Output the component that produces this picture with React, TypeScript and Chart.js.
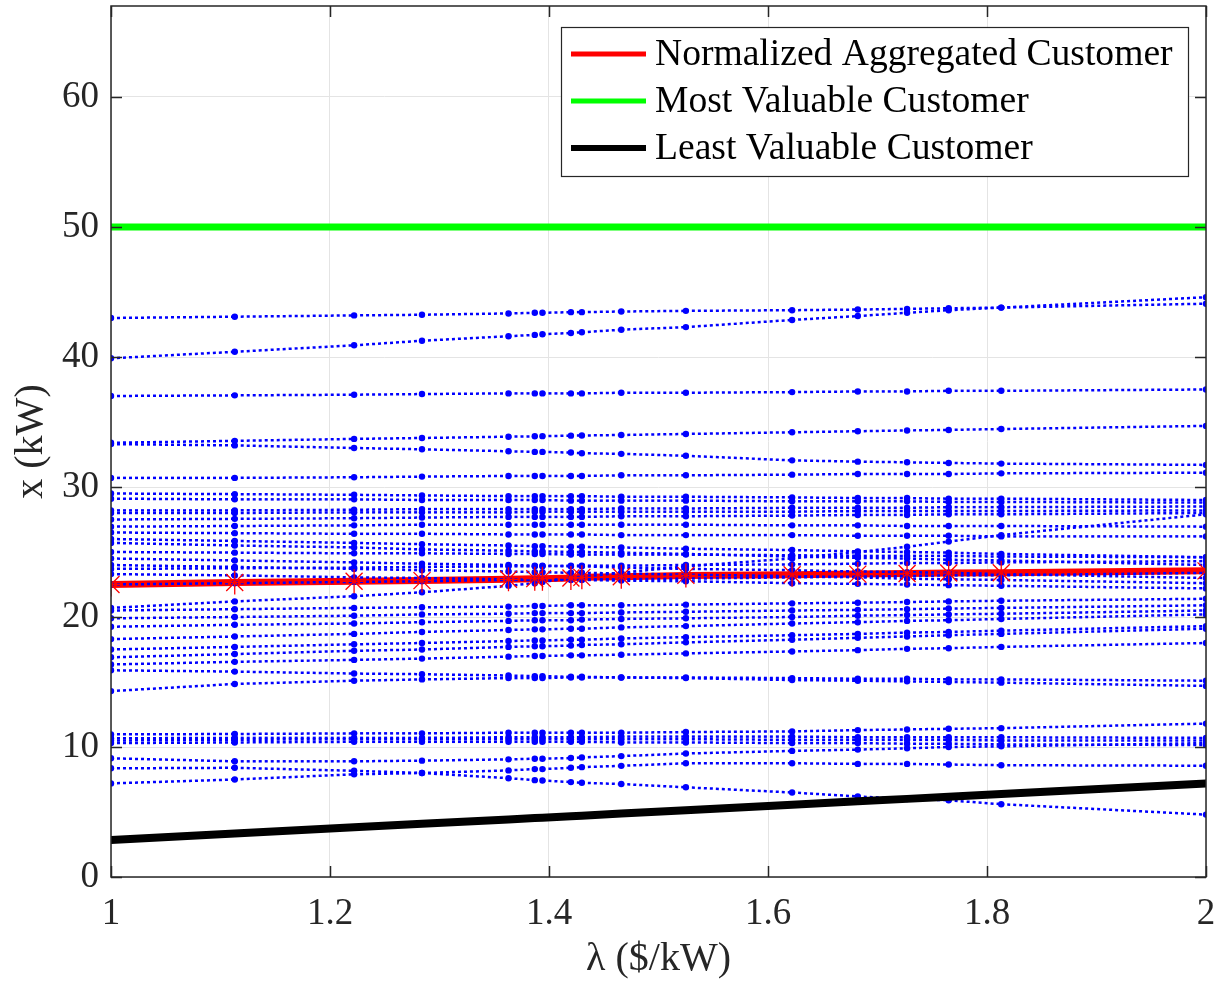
import React, { useEffect, useRef } from "react";
import { Chart, registerables } from "chart.js";

Chart.register(...registerables);

// λ values ($/kW) at which each customer's response was computed
const LAMBDA = [1, 1.113, 1.222, 1.284, 1.363, 1.387, 1.394, 1.42, 1.43, 1.466, 1.525, 1.622, 1.682, 1.727, 1.765, 1.813, 2];

const X_TICKS = [1, 1.2, 1.4, 1.6, 1.8, 2];
const Y_TICKS = [0, 10, 20, 30, 40, 50, 60];

const LEGEND_LABELS = ["Normalized Aggregated Customer", "Most Valuable Customer", "Least Valuable Customer"];

const AGGREGATED = [22.5, 22.65, 22.75, 22.8, 22.9, 22.95, 22.95, 23.0, 23.05, 23.1, 23.2, 23.25, 23.3, 23.35, 23.38, 23.4, 23.55];
const MOST_VALUABLE = [50, 50, 50, 50, 50, 50, 50, 50, 50, 50, 50, 50, 50, 50, 50, 50, 50];
const LEAST_VALUABLE = [2.85, 3.34, 3.82, 4.09, 4.43, 4.53, 4.56, 4.68, 4.72, 4.88, 5.13, 5.56, 5.82, 6.01, 6.18, 6.39, 7.2];

// individual customers (kW)
const C01 = [43.0, 43.1, 43.2, 43.25, 43.35, 43.4, 43.4, 43.45, 43.45, 43.5, 43.55, 43.6, 43.65, 43.7, 43.75, 43.8, 44.6];
const C02 = [39.9, 40.4, 40.9, 41.25, 41.6, 41.7, 41.75, 41.85, 41.9, 42.1, 42.3, 42.85, 43.15, 43.4, 43.6, 43.8, 44.1];
const C03 = [37.0, 37.05, 37.1, 37.15, 37.2, 37.2, 37.2, 37.2, 37.2, 37.25, 37.25, 37.3, 37.35, 37.35, 37.4, 37.4, 37.5];
const C04 = [33.4, 33.55, 33.7, 33.77, 33.87, 33.9, 33.91, 33.95, 33.96, 34.0, 34.08, 34.21, 34.29, 34.35, 34.39, 34.46, 34.7];
const C05 = [33.3, 33.2, 33.0, 32.9, 32.75, 32.7, 32.7, 32.65, 32.6, 32.55, 32.4, 32.05, 31.95, 31.9, 31.85, 31.8, 31.7];
const C06 = [30.7, 30.7, 30.75, 30.8, 30.85, 30.85, 30.85, 30.85, 30.85, 30.9, 30.9, 30.95, 31.0, 31.0, 31.0, 31.05, 31.1];
const C07 = [29.5, 29.45, 29.4, 29.35, 29.3, 29.3, 29.3, 29.3, 29.3, 29.25, 29.25, 29.2, 29.15, 29.15, 29.1, 29.1, 29.0];
const C08 = [29.1, 29.05, 29.05, 29.0, 29.0, 29.0, 29.0, 28.95, 28.95, 28.95, 28.95, 28.9, 28.9, 28.9, 28.85, 28.85, 28.8];
const C09 = [28.2, 28.2, 28.25, 28.3, 28.3, 28.3, 28.3, 28.3, 28.3, 28.35, 28.35, 28.4, 28.4, 28.4, 28.45, 28.45, 28.5];
const C10 = [28.0, 28.0, 28.05, 28.05, 28.05, 28.1, 28.1, 28.1, 28.1, 28.1, 28.1, 28.1, 28.15, 28.15, 28.15, 28.15, 28.2];
const C11 = [27.5, 27.55, 27.6, 27.65, 27.7, 27.7, 27.7, 27.7, 27.7, 27.75, 27.75, 27.8, 27.85, 27.85, 27.9, 27.9, 28.0];
const C12 = [26.95, 27.0, 27.05, 27.1, 27.1, 27.1, 27.1, 27.1, 27.1, 27.1, 27.1, 27.05, 27.05, 27.0, 27.0, 27.0, 26.95];
const C13 = [26.5, 26.45, 26.4, 26.4, 26.35, 26.35, 26.35, 26.35, 26.35, 26.3, 26.3, 26.3, 26.25, 26.25, 26.25, 26.2, 26.2];
const C14 = [26.0, 25.85, 25.7, 25.6, 25.5, 25.45, 25.45, 25.4, 25.4, 25.35, 25.25, 25.15, 25.05, 25.0, 24.95, 24.85, 24.6];
const C15 = [25.7, 25.5, 25.35, 25.2, 25.1, 25.05, 25.05, 25.0, 25.0, 24.95, 24.85, 24.65, 24.55, 24.5, 24.4, 24.35, 24.0];
const C16 = [25.0, 24.95, 24.9, 24.9, 24.85, 24.85, 24.85, 24.8, 24.8, 24.8, 24.8, 24.75, 24.7, 24.7, 24.7, 24.65, 24.6];
const C17 = [24.5, 24.35, 24.2, 24.1, 24.0, 23.95, 23.95, 23.9, 23.9, 23.8, 23.7, 23.6, 23.5, 23.45, 23.4, 23.3, 23.0];
const C18 = [24.0, 23.85, 23.7, 23.6, 23.5, 23.45, 23.45, 23.4, 23.4, 23.35, 23.25, 23.15, 23.05, 22.95, 22.9, 22.85, 22.6];
const C19 = [23.7, 23.75, 23.8, 23.85, 23.9, 23.9, 23.9, 23.95, 23.95, 23.95, 24.0, 24.05, 24.1, 24.15, 24.15, 24.2, 24.3];
const C20 = [23.3, 23.2, 23.05, 23.0, 22.9, 22.85, 22.85, 22.85, 22.85, 22.8, 22.75, 22.6, 22.55, 22.5, 22.45, 22.4, 22.2];
const C21 = [22.5, 22.6, 22.7, 22.75, 22.85, 22.85, 22.85, 22.9, 22.9, 22.9, 22.95, 23.05, 23.1, 23.15, 23.2, 23.2, 23.4];
const C22 = [20.7, 21.2, 21.6, 21.9, 22.4, 22.6, 22.7, 23.0, 23.1, 23.4, 23.9, 24.5, 25.0, 25.4, 25.8, 26.3, 27.9];
const C23 = [20.5, 20.6, 20.7, 20.75, 20.8, 20.85, 20.85, 20.9, 20.9, 20.9, 20.95, 21.05, 21.1, 21.15, 21.2, 21.25, 21.4];
const C24 = [19.9, 20.0, 20.1, 20.2, 20.25, 20.3, 20.3, 20.3, 20.3, 20.35, 20.4, 20.5, 20.55, 20.6, 20.65, 20.7, 20.9];
const C25 = [19.25, 19.4, 19.5, 19.6, 19.7, 19.75, 19.75, 19.75, 19.8, 19.85, 19.9, 20.0, 20.1, 20.15, 20.2, 20.25, 20.5];
const C26 = [18.3, 18.5, 18.7, 18.85, 19.0, 19.05, 19.05, 19.1, 19.1, 19.2, 19.3, 19.5, 19.6, 19.7, 19.75, 19.85, 20.2];
const C27 = [17.5, 17.7, 17.9, 18.0, 18.15, 18.2, 18.2, 18.25, 18.25, 18.35, 18.45, 18.6, 18.7, 18.8, 18.85, 18.95, 19.3];
const C28 = [16.9, 17.15, 17.4, 17.5, 17.7, 17.75, 17.75, 17.8, 17.85, 17.9, 18.05, 18.25, 18.4, 18.5, 18.6, 18.7, 19.1];
const C29 = [16.35, 16.55, 16.7, 16.8, 16.95, 17.0, 17.0, 17.05, 17.05, 17.1, 17.2, 17.35, 17.45, 17.55, 17.6, 17.7, 18.0];
const C30 = [15.9, 15.8, 15.65, 15.6, 15.5, 15.45, 15.45, 15.4, 15.4, 15.35, 15.3, 15.15, 15.1, 15.05, 15.0, 14.95, 14.7];
const C31 = [14.3, 14.85, 15.1, 15.2, 15.3, 15.3, 15.3, 15.35, 15.35, 15.35, 15.35, 15.3, 15.25, 15.25, 15.2, 15.2, 15.1];
const C32 = [10.97, 11.0, 11.05, 11.05, 11.1, 11.1, 11.1, 11.1, 11.1, 11.1, 11.15, 11.2, 11.3, 11.35, 11.4, 11.45, 11.8];
const C33 = [10.67, 10.7, 10.7, 10.7, 10.75, 10.75, 10.75, 10.75, 10.75, 10.8, 10.8, 10.8, 10.75, 10.75, 10.75, 10.75, 10.7];
const C34 = [10.5, 10.55, 10.6, 10.6, 10.6, 10.6, 10.6, 10.6, 10.6, 10.6, 10.6, 10.55, 10.55, 10.55, 10.55, 10.5, 10.5];
const C35 = [10.3, 10.35, 10.4, 10.4, 10.4, 10.4, 10.4, 10.4, 10.4, 10.35, 10.35, 10.3, 10.3, 10.25, 10.25, 10.2, 10.15];
const C36 = [9.13, 8.9, 8.9, 8.95, 9.05, 9.1, 9.1, 9.15, 9.2, 9.3, 9.5, 9.7, 9.8, 9.9, 10.0, 10.05, 10.3];
const C37 = [8.36, 8.4, 8.17, 8.0, 7.6, 7.45, 7.42, 7.3, 7.25, 7.15, 6.9, 6.5, 6.2, 6.0, 5.9, 5.6, 4.8];
const C38 = [7.2, 7.5, 7.9, 8.0, 8.2, 8.3, 8.3, 8.4, 8.45, 8.55, 8.75, 8.75, 8.7, 8.7, 8.65, 8.6, 8.56];

const CUSTOMERS = [C01, C02, C03, C04, C05, C06, C07, C08, C09, C10, C11, C12, C13, C14, C15, C16, C17, C18, C19,
  C20, C21, C22, C23, C24, C25, C26, C27, C28, C29, C30, C31, C32, C33, C34, C35, C36, C37, C38];

const FONT = "'Liberation Serif', 'Times New Roman', serif";
const AXIS = "#262626";

const toXY = (vals: number[]) => LAMBDA.map((l, i) => ({ x: l, y: vals[i] }));

const framePlugin = {
  id: "matlabFrame",
  afterDatasetsDraw(chart: any) {
    const { ctx, chartArea: a, scales } = chart;
    const xs = scales.x;
    const ys = scales.y;
    ctx.save();
    ctx.strokeStyle = AXIS;
    ctx.lineWidth = 1.5;
    ctx.strokeRect(a.left, a.top, a.right - a.left, a.bottom - a.top);
    const tl = 11;
    ctx.beginPath();
    xs.ticks.forEach((t: any) => {
      const px = Math.round(xs.getPixelForValue(t.value)) + 0.5;
      ctx.moveTo(px, a.bottom);
      ctx.lineTo(px, a.bottom - tl);
      ctx.moveTo(px, a.top);
      ctx.lineTo(px, a.top + tl);
    });
    ys.ticks.forEach((t: any) => {
      const py = Math.round(ys.getPixelForValue(t.value)) + 0.5;
      ctx.moveTo(a.left, py);
      ctx.lineTo(a.left + tl, py);
      ctx.moveTo(a.right, py);
      ctx.lineTo(a.right - tl, py);
    });
    ctx.stroke();
    ctx.restore();
  },
  afterDraw(chart: any) {
    const { ctx, chartArea: a } = chart;
    ctx.save();
    // axis titles
    ctx.fillStyle = AXIS;
    ctx.font = `40px ${FONT}`;
    ctx.textAlign = "center";
    ctx.textBaseline = "alphabetic";
    ctx.fillText("\u03BB ($/kW)", (a.left + a.right) / 2, 970);
    ctx.save();
    ctx.translate(42, (a.top + a.bottom) / 2);
    ctx.rotate(-Math.PI / 2);
    ctx.fillText("x (kW)", 0, 0);
    ctx.restore();

    // legend box
    const bx = 561, by = 27, bw = 627, bh = 149;
    ctx.fillStyle = "#ffffff";
    ctx.fillRect(bx, by, bw, bh);
    ctx.strokeStyle = AXIS;
    ctx.lineWidth = 1.2;
    ctx.strokeRect(bx + 0.5, by + 0.5, bw, bh);
    const colors = ["#ff0000", "#00ff00", "#000000"];
    const widths = [5, 5, 6];
    const rows = [54, 101, 148];
    ctx.font = `37.6px ${FONT}`;
    ctx.textAlign = "left";
    ctx.textBaseline = "middle";
    LEGEND_LABELS.forEach((lab, i) => {
      ctx.strokeStyle = colors[i];
      ctx.lineWidth = widths[i];
      ctx.beginPath();
      ctx.moveTo(571, rows[i]);
      ctx.lineTo(646, rows[i]);
      ctx.stroke();
      ctx.fillStyle = "#000000";
      ctx.fillText(lab, 655, rows[i] + 1);
    });
    ctx.restore();
  },
};

const fmtTick = (v: number | string) => String(Number(Number(v).toFixed(2)));

export default function App() {
  const ref = useRef<HTMLCanvasElement | null>(null);

  useEffect(() => {
    if (!ref.current) return;
    const blue = CUSTOMERS.map((vals) => ({
      data: toXY(vals),
      borderColor: "#0000ff",
      backgroundColor: "#0000ff",
      borderWidth: 2.5,
      borderDash: [3, 3],
      // restart the dash pattern at each vertex, like MATLAB does
      segment: { borderDashOffset: (c: any) => (c.p0DataIndex % 2 ? 0.001 : 0) },
      pointRadius: 3.2,
      pointBorderWidth: 0,
      pointBackgroundColor: "#0000ff",
      fill: false,
      tension: 0,
    }));
    const chart = new Chart(ref.current, {
      type: "line",
      data: {
        datasets: [
          {
            // star markers of the aggregated customer, drawn above the customer lines
            data: toXY(AGGREGATED),
            showLine: false,
            pointStyle: "star",
            pointRadius: 12,
            pointBorderColor: "#ff0000",
            pointBorderWidth: 1.3,
            pointBackgroundColor: "#ff0000",
          },
          {
            label: LEGEND_LABELS[2],
            data: toXY(LEAST_VALUABLE),
            borderColor: "#000000",
            borderWidth: 8,
            borderCapStyle: "round",
            pointRadius: 0,
            fill: false,
          },
          {
            label: LEGEND_LABELS[1],
            data: toXY(MOST_VALUABLE),
            borderColor: "#00ff00",
            borderWidth: 7,
            borderCapStyle: "round",
            pointRadius: 0,
            fill: false,
          },
          ...blue,
          {
            label: LEGEND_LABELS[0],
            data: toXY(AGGREGATED),
            borderColor: "#ff0000",
            borderWidth: 7,
            pointRadius: 0,
            fill: false,
          },
        ] as any,
      },
      options: {
        animation: false,
        responsive: false,
        devicePixelRatio: 1,
        layout: { autoPadding: false, padding: { left: 0, right: 8, top: 6, bottom: 0 } },
        plugins: { legend: { display: false }, tooltip: { enabled: false } },
        scales: {
          x: {
            type: "linear",
            min: 1,
            max: 2,
            afterBuildTicks: (s: any) => {
              s.ticks = X_TICKS.map((v) => ({ value: v }));
            },
            afterFit: (s: any) => {
              s.height = 107;
              s.paddingLeft = 0;
              s.paddingRight = 0;
            },
            ticks: {
              font: { family: FONT, size: 37 },
              color: AXIS,
              padding: 15,
              maxRotation: 0,
              autoSkip: false,
              callback: (v: any) => fmtTick(v),
            },
            grid: { color: "#e4e4e4", lineWidth: 1, drawTicks: false },
            border: { display: false },
          },
          y: {
            type: "linear",
            min: 0,
            max: 67,
            afterBuildTicks: (s: any) => {
              s.ticks = Y_TICKS.map((v) => ({ value: v }));
            },
            afterFit: (s: any) => {
              s.width = 111;
              s.paddingTop = 0;
              s.paddingBottom = 0;
            },
            ticks: {
              font: { family: FONT, size: 37 },
              color: AXIS,
              padding: 12,
              autoSkip: false,
              callback: (v: any) => fmtTick(v),
            },
            grid: { color: "#e4e4e4", lineWidth: 1, drawTicks: false },
            border: { display: false },
          },
        },
      },
      plugins: [framePlugin],
    });
    return () => chart.destroy();
  }, []);

  return (
    <div style={{ position: "fixed", left: 0, top: 0, width: 1214, height: 984, background: "#ffffff" }}>
      <canvas ref={ref} width={1214} height={984} style={{ width: 1214, height: 984, display: "block" }} />
    </div>
  );
}
